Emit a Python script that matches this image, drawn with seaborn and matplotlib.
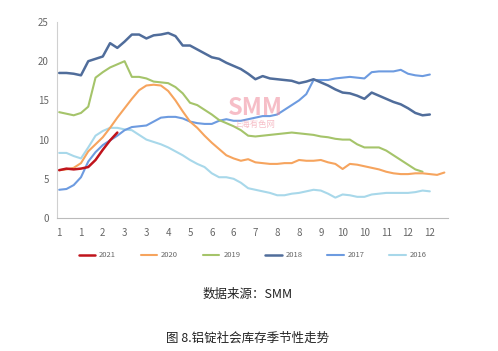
import numpy as np
import pandas as pd
import matplotlib.pyplot as plt
import seaborn as sns

# weekly inventory, 10k tonnes
y2021 = [6.1, 6.3, 6.2, 6.3, 6.5, 7.4, 8.7, 9.9, 10.9]
y2020 = [6.1, 6.2, 6.4, 7.0, 8.5, 9.4, 10.3, 11.5, 12.8, 14.0, 15.2, 16.3, 16.9, 17.0,
         16.9, 16.2, 15.0, 13.6, 12.3, 11.5, 10.5, 9.6, 8.8, 8.0, 7.6, 7.3, 7.5, 7.1,
         7.0, 6.9, 6.9, 7.0, 7.0, 7.4, 7.3, 7.3, 7.4, 7.1, 6.9, 6.25, 6.9, 6.8, 6.6,
         6.4, 6.2, 5.9, 5.7, 5.6, 5.6, 5.7, 5.7, 5.6, 5.5, 5.8]
y2019 = [13.5, 13.3, 13.1, 13.4, 14.2, 17.9, 18.6, 19.2, 19.6, 20.0, 18.0, 18.0, 17.8,
         17.4, 17.3, 17.2, 16.7, 15.9, 14.7, 14.4, 13.8, 13.2, 12.5, 12.1, 11.7, 11.2,
         10.5, 10.4, 10.5, 10.6, 10.7, 10.8, 10.9, 10.8, 10.7, 10.6, 10.4, 10.3, 10.1,
         10.0, 10.0, 9.4, 9.0, 9.0, 9.0, 8.6, 8.0, 7.4, 6.8, 6.2, 5.9]
y2018 = [18.5, 18.5, 18.4, 18.2, 20.0, 20.3, 20.6, 22.3, 21.7, 22.5, 23.4, 23.4, 22.9,
         23.3, 23.4, 23.6, 23.2, 22.0, 22.0, 21.5, 21.0, 20.5, 20.3, 19.8, 19.4, 19.0,
         18.4, 17.7, 18.1, 17.8, 17.7, 17.6, 17.5, 17.2, 17.4, 17.7, 17.3, 16.9, 16.4,
         16.0, 15.9, 15.6, 15.2, 16.0, 15.6, 15.2, 14.8, 14.5, 14.0, 13.4, 13.1, 13.2]
y2017 = [3.6, 3.7, 4.2, 5.2, 7.2, 8.4, 9.3, 9.9, 10.5, 11.2, 11.6, 11.7, 11.8, 12.3,
         12.8, 12.9, 12.9, 12.7, 12.3, 12.1, 12.0, 12.0, 12.4, 12.6, 12.4, 12.4, 12.6,
         12.8, 13.0, 13.0, 13.2, 13.8, 14.4, 15.0, 15.8, 17.6, 17.6, 17.6, 17.8, 17.9,
         18.0, 17.9, 17.8, 18.6, 18.7, 18.7, 18.7, 18.9, 18.4, 18.2, 18.1, 18.3]
y2016 = [8.3, 8.3, 7.9, 7.6, 9.0, 10.5, 11.1, 11.5, 11.5, 11.3, 11.2, 10.6, 10.0, 9.7,
         9.4, 9.0, 8.5, 8.0, 7.4, 6.9, 6.5, 5.7, 5.2, 5.2, 5.0, 4.5, 3.8, 3.6, 3.4, 3.2,
         2.9, 2.9, 3.1, 3.2, 3.4, 3.6, 3.5, 3.1, 2.6, 3.0, 2.9, 2.7, 2.7, 3.0, 3.1, 3.2,
         3.2, 3.2, 3.2, 3.3, 3.5, 3.4]
month_labels = ['1', '1', '2', '3', '3', '4', '5', '6', '6', '7', '8', '8', '9', '10',
                '10', '11', '12', '12']

series = {'2021': y2021, '2020': y2020, '2019': y2019,
          '2018': y2018, '2017': y2017, '2016': y2016}
rows = []
for yr, vals in series.items():
    for i, v in enumerate(vals):
        rows.append({'week': i, 'value': v, 'year': yr})
df = pd.DataFrame(rows)

palette = {'2021': '#c0141c', '2020': '#f6a45e', '2019': '#a5c46a',
           '2018': '#506d9b', '2017': '#6d9be0', '2016': '#a8d8ea'}
widths = {'2021': 1.8, '2020': 1.5, '2019': 1.5, '2018': 1.8, '2017': 1.5, '2016': 1.5}

sns.set_style('white')
plt.rcParams['font.family'] = ['Noto Sans CJK SC', 'DejaVu Sans']

fig = plt.figure(figsize=(4.98, 3.51), dpi=100)
ax = fig.add_axes([57/498, 1-218/351, (448-57)/498, (218-22)/351])

for yr in ['2016', '2017', '2018', '2019', '2020', '2021']:
    sns.lineplot(data=df[df['year'] == yr], x='week', y='value', color=palette[yr],
                 linewidth=widths[yr], label=yr, ax=ax)

ax.set_xlim(-0.3, 53.5)
ax.set_ylim(0, 25)
ax.set_yticks([0, 5, 10, 15, 20, 25])
ax.set_xticks(np.arange(0, 54, 3))
ax.set_xticklabels(month_labels)
ax.set_xticks(np.arange(0, 54), minor=True)
ax.tick_params(axis='both', labelsize=7, colors='#666666', length=0, pad=6)
ax.tick_params(axis='x', which='both', length=2, direction='inout', color='#bbbbbb')
ax.set_xlabel('')
ax.set_ylabel('')
for s in ['top', 'right']:
    ax.spines[s].set_visible(False)
ax.spines['left'].set_color('#d0d0d0')
ax.spines['bottom'].set_color('#bbbbbb')

# watermark
fig.text(255/498, 1-108/351, 'SMM', fontsize=17, fontweight='bold', color='#f08a9a',
         alpha=0.55, ha='center', va='center', style='italic')
fig.text(255/498, 1-124/351, '上海有色网', fontsize=6, color='#f08a9a', alpha=0.55,
         ha='center', va='center')

handles, labels = ax.get_legend_handles_labels()
order = ['2021', '2020', '2019', '2018', '2017', '2016']
hmap = dict(zip(labels, handles))
ax.legend([hmap[k] for k in order], order, loc='center', bbox_to_anchor=(0.5, -0.19),
          ncol=6, frameon=False, fontsize=5.5, handlelength=2.2, columnspacing=3.2,
          handletextpad=0.5, labelcolor='#666666')

fig.text(248/498, 1-294/351, '数据来源：SMM', fontsize=9, ha='center', va='center', color='#222222')
fig.text(248/498, 1-338/351, '图 8.铝锭社会库存季节性走势', fontsize=9, ha='center', va='center',
         color='#222222')

fig.savefig('out.png', dpi=100)
